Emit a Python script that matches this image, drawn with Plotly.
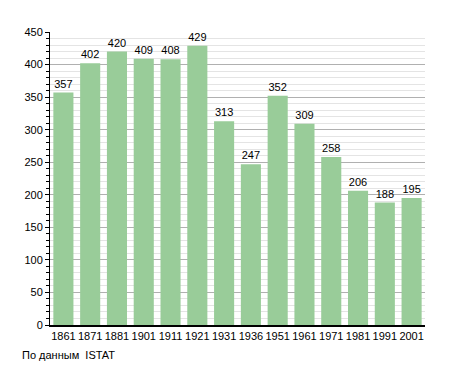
import plotly.graph_objects as go

years = ["1861", "1871", "1881", "1901", "1911", "1921", "1931", "1936", "1951", "1961", "1971", "1981", "1991", "2001"]
population = [357, 402, 420, 409, 408, 429, 313, 247, 352, 309, 258, 206, 188, 195]
y_ticks = [0, 50, 100, 150, 200, 250, 300, 350, 400, 450]

# page body has an 8px default margin; compensate in plot margins
L, R, T, B = 42, 38, 24, 56
W, H = 455, 373

fig = go.Figure()
fig.add_trace(go.Bar(
    x=years, y=population,
    marker=dict(color="#99cc99", line=dict(width=0)),
    text=[str(v) for v in population], textposition="outside",
    textfont=dict(size=11, color="#000000", family="Liberation Sans, Arial"),
    cliponaxis=False,
))
plot_w = W - L - R
plot_h = H - T - B
fig.update_layout(
    width=W, height=H,
    margin=dict(l=L, r=R, t=T, b=B),
    plot_bgcolor="white", paper_bgcolor="white",
    bargap=0.25,
    showlegend=False,
    font=dict(family="Liberation Sans, Arial", size=11, color="#000000"),
    xaxis=dict(type="category", showline=True, linecolor="#000000", linewidth=1.5,
               ticks="", showgrid=False, tickfont=dict(size=11)),
    yaxis=dict(range=[0, 450], tickvals=y_ticks, showline=True, linecolor="#000000",
               linewidth=1, ticks="outside", ticklen=4, tickcolor="#000000",
               gridcolor="#b0b0b0", gridwidth=1, zeroline=False,
               minor=dict(dtick=10, showgrid=True, gridcolor="#e4e4e4", ticks="outside",
                          ticklen=3, tickcolor="#000000"),
               tickfont=dict(size=11)),
    annotations=[dict(text="По данным  ISTAT",
                      x=(12 - L) / plot_w, y=(H - B - 347) / plot_h,
                      xref="paper", yref="paper",
                      showarrow=False, xanchor="left", yanchor="middle",
                      font=dict(size=11, color="#000000"))],
)
fig.write_html("out.html")
